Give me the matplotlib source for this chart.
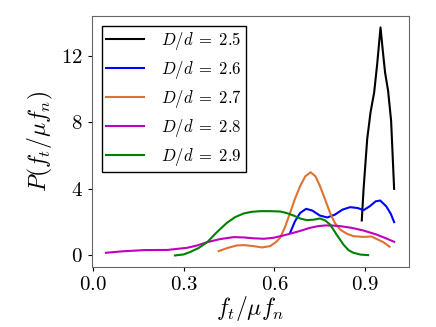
import matplotlib
matplotlib.use('Agg')
import matplotlib.pyplot as plt

plt.rcParams['font.family'] = 'serif'
plt.rcParams['font.serif'] = ['cmr10']
plt.rcParams['mathtext.fontset'] = 'cm'
plt.rcParams['axes.formatter.use_mathtext'] = True

# D/d = 2.5
x25 = [0.889, 0.895, 0.907, 0.918, 0.930, 0.940, 0.951, 0.958, 0.966, 0.976, 0.986, 0.996]
y25 = [2.1, 4.0, 7.0, 8.6, 9.8, 11.5, 13.7, 12.4, 11.0, 9.9, 8.1, 4.0]

# D/d = 2.6
x26 = [0.652, 0.668, 0.685, 0.705, 0.725, 0.75, 0.775, 0.80, 0.825, 0.85,
       0.875, 0.895, 0.915, 0.935, 0.950, 0.97, 0.985, 0.996]
y26 = [1.36, 2.05, 2.55, 2.8, 2.7, 2.4, 2.28, 2.45, 2.75, 2.9,
       2.85, 2.72, 2.95, 3.25, 3.3, 2.95, 2.5, 2.0]

# D/d = 2.7
x27 = [0.416, 0.445, 0.476, 0.50, 0.531, 0.559, 0.586, 0.605, 0.619, 0.635, 0.652,
       0.668, 0.685, 0.702, 0.720, 0.736, 0.751, 0.768, 0.784, 0.80, 0.817,
       0.84, 0.861, 0.885, 0.905, 0.921, 0.937, 0.96, 0.981]
y27 = [0.26, 0.45, 0.6, 0.62, 0.56, 0.48, 0.56, 0.8, 1.06, 1.7, 2.56,
       3.4, 4.16, 4.75, 5.0, 4.75, 4.16, 3.35, 2.56, 1.95, 1.56,
       1.3, 1.16, 1.12, 1.12, 1.14, 1.0, 0.8, 0.52]

# D/d = 2.8
x28 = [0.043, 0.10, 0.169, 0.246, 0.312, 0.345, 0.378, 0.42, 0.465, 0.50, 0.531,
       0.565, 0.597, 0.63, 0.663, 0.69, 0.718, 0.745, 0.767, 0.79, 0.817, 0.855,
       0.894, 0.937, 0.965, 0.996]
y28 = [0.16, 0.25, 0.32, 0.33, 0.46, 0.6, 0.8, 0.98, 1.1, 1.08, 1.03,
       1.0, 1.06, 1.2, 1.36, 1.5, 1.66, 1.76, 1.8, 1.8, 1.76, 1.66,
       1.5, 1.26, 1.06, 0.82]

# D/d = 2.9
x29 = [0.271, 0.30, 0.323, 0.35, 0.378, 0.41, 0.443, 0.47, 0.498, 0.525, 0.553,
       0.585, 0.619, 0.64, 0.663, 0.685, 0.707, 0.73, 0.751, 0.768, 0.784,
       0.806, 0.828, 0.845, 0.861, 0.885, 0.910]
y29 = [0.0, 0.06, 0.22, 0.45, 0.8, 1.4, 1.96, 2.3, 2.52, 2.62, 2.66,
       2.66, 2.64, 2.55, 2.4, 2.22, 2.12, 2.15, 2.22, 2.1, 1.86,
       1.25, 0.66, 0.32, 0.16, 0.05, 0.02]

labels = [r'$D/d\;=\;2.5$', r'$D/d\;=\;2.6$', r'$D/d\;=\;2.7$',
          r'$D/d\;=\;2.8$', r'$D/d\;=\;2.9$']
colors = ['k', 'b', '#dd7232', 'm', 'g']

fig = plt.figure(figsize=(4.36, 3.27), dpi=100)
ax = fig.add_axes([0.21, 0.184, 0.727, 0.767])
series = [(x25, y25), (x26, y26), (x27, y27), (x28, y28), (x29, y29)]
for (x, y), lab, c in zip(series, labels, colors):
    ax.plot(x, y, color=c, lw=1.5, label=lab)

ax.set_xticks([0.0, 0.3, 0.6, 0.9])
ax.set_yticks([0, 4, 8, 12])
ax.tick_params(labelsize=15, length=3, width=0.8)
for s in ax.spines.values():
    s.set_color('0.4')
ax.set_xlabel('$f_t/\\mu f_n$', fontsize=17, labelpad=0)
ax.set_ylabel('$P(f_t/\\mu f_n)$', fontsize=17, labelpad=4)

leg = ax.legend(loc='upper left', fontsize=12, fancybox=False, framealpha=1,
                edgecolor='k', handlelength=2.3, handletextpad=1.0,
                labelspacing=0.42, borderpad=0.25, borderaxespad=0.6)
leg.get_frame().set_linewidth(1.0)

fig.savefig('out.png', dpi=100)
